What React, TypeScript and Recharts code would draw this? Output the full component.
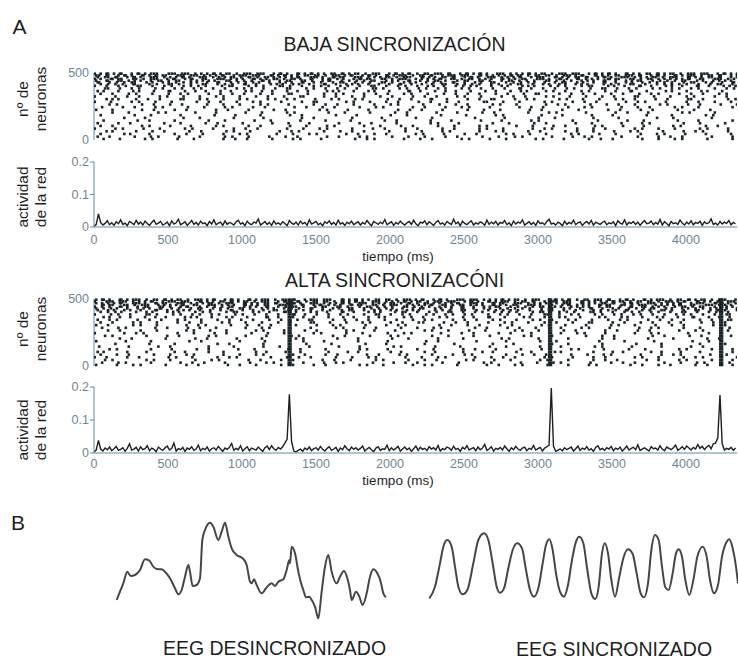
import { ScatterChart, Scatter, LineChart, Line, XAxis, YAxis } from 'recharts';

// time axis of the simulations (ms)
const timeTicks = [0, 500, 1000, 1500, 2000, 2500, 3000, 3500, 4000];
const timeMax = 4345;
const binMs = 30; // raster bin
const actStepMs = 15; // activity sampling step

// network activity, thousandths, one value every 15 ms
const lowActivity = [
  2, 8, 40, 14, 6, 11, 19, 7, 13, 5,
  16, 10, 22, 8, 12, 4, 17, 13, 7, 20,
  9, 15, 6, 18, 11, 5, 14, 21, 8, 12,
  17, 6, 10, 15, 4, 19, 9, 13, 24, 7,
  11, 16, 5, 12, 20, 8, 14, 6, 18, 10,
  13, 4, 17, 9, 22, 7, 12, 15, 5, 19,
  8, 14, 11, 6, 16, 21, 9, 13, 4, 18,
  10, 7, 15, 12, 25, 6, 11, 17, 8, 14,
  5, 19, 9, 13, 7, 16, 11, 4, 20, 12,
  8, 15, 6, 18, 10, 14, 5, 22, 9, 13,
  17, 7, 12, 4, 16, 11, 19, 8, 14, 6,
  21, 9, 13, 5, 15, 10, 18, 7, 12, 16,
  6, 14, 9, 20, 11, 4, 17, 13, 8, 15,
  10, 23, 7, 12, 16, 5, 14, 9, 18, 11,
  6, 13, 17, 8, 21, 10, 4, 15, 12, 19,
  7, 16, 11, 5, 14, 20, 9, 13, 6, 17,
  12, 8, 24, 10, 15, 4, 18, 11, 7, 14,
  19, 6, 13, 9, 16, 12, 5, 21, 8, 15,
  10, 17, 6, 14, 11, 20, 7, 13, 4, 18,
  9, 15, 12, 22, 6, 11, 16, 8, 14, 5,
  19, 10, 13, 7, 17, 24, 9, 12, 6, 15,
  11, 4, 18, 8, 14, 10, 21, 7, 13, 16,
  5, 12, 17, 9, 20, 6, 15, 11, 8, 14,
  18, 7, 13, 10, 16, 4, 19, 12, 9, 22,
  6, 14, 11, 17, 8, 15, 5, 13, 20, 10,
  12, 18, 7, 14, 9, 23, 6, 16, 11, 4,
  17, 10, 13, 8, 21, 12, 6, 15, 9, 19,
  7, 14, 11, 18, 5, 16, 10, 13, 25, 8,
  12, 6, 17, 9, 15, 11, 20, 7, 14, 10,
];

const highActivity = [
  3, 9, 38, 12, 6, 15, 10, 18, 7, 13,
  20, 8, 11, 16, 5, 14, 28, 9, 12, 17,
  6, 19, 10, 13, 22, 7, 15, 11, 4, 18,
  12, 8, 16, 21, 9, 14, 30, 6, 13, 10,
  17, 5, 15, 11, 19, 8, 12, 24, 7, 14,
  10, 18, 6, 13, 16, 9, 20, 12, 5, 15,
  11, 17, 29, 8, 14, 10, 22, 6, 13, 19,
  7, 15, 12, 9, 18, 11, 5, 16, 21, 10,
  22, 13, 8, 17, 12, 19, 30, 42, 178, 35,
  6, 3, 8, 12, 5, 15, 10, 18, 7, 13,
  16, 9, 20, 11, 6, 14, 19, 8, 12, 17,
  5, 15, 10, 22, 13, 7, 18, 11, 16, 9,
  14, 21, 6, 12, 17, 10, 4, 15, 19, 8,
  13, 11, 24, 7, 16, 9, 14, 20, 6, 12,
  18, 10, 15, 5, 13, 21, 8, 17, 11, 14,
  7, 19, 12, 16, 9, 23, 6, 13, 10, 18,
  15, 8, 20, 11, 14, 5, 17, 12, 22, 9,
  13, 16, 7, 18, 10, 15, 26, 8, 12, 19,
  6, 14, 11, 17, 9, 21, 13, 5, 16, 10,
  20, 12, 8, 15, 18, 7, 14, 11, 23, 9,
  13, 17, 6, 15, 19, 24, 197, 20, 5, 9,
  12, 7, 16, 10, 14, 18, 6, 13, 21, 8,
  15, 11, 19, 9, 13, 5, 17, 22, 10, 14,
  8, 16, 12, 20, 7, 15, 11, 18, 6, 13,
  21, 9, 14, 17, 10, 25, 8, 12, 16, 11,
  6, 19, 13, 15, 9, 22, 12, 7, 18, 14,
  10, 16, 24, 8, 13, 19, 11, 21, 15, 9,
  17, 12, 26, 14, 20, 10, 18, 23, 13, 28,
  30, 45, 176, 28, 9, 14, 11, 17, 8, 15,
];

// synchronous volleys in the high-synchrony network (ms, every neuron fires)
const syncTimes = [1316, 1328, 3076, 3088, 4232, 4244];

// raster rows: neuron index, then one char per 30 ms bin ('.' = silent, 1..3 = spike offset)
const lowRaster: [number, string][] = [
  [495, '1231231.2312321.3213213.1231232.1321321.2312.3123123.2131232.1321.2312313.2132131.2312312.3213.1231232.1321321.2312312.3123.2131232.1321321.2312313.21321'],
  [482, '2131.2312.3123121.3213213.1231.2321321.3123123.2132.1321231.2312.3123213.2131.2321321.3123.1231213.2132.1321231.3123.2132131.2312.3123213.2131.23213212'],
  [469, '3.2131.2312.3213.12312.3213.1232.1313.2123.1231.3212.3121.3213.1232.1321.3123.2131.2312.3213.1231.2321.3123.2131.2312.3213.1232.1321.3123.2131.23121.3'],
  [456, '12.3121.32.1321.231.231.21.3213.12.3123.213.212.31.2313.1.23121.32.1321.23.1231.213.213.12.3123.21.3212.312.313.12.3121.32.132.123.1231.21.3213.12.312'],
  [443, '2.31.213.12.3.213.21.3.123.1.32.13.2.312.3.21.32.1.231.3.2.13.21.3.12.31.2.132.1.3.21.32.1.3.213.2.1.32.13.2.3.12.31.2.3.121.3.2.13.21.3.1.23.12.3.213'],
  [430, '31.2.13.21.3.1.23.2.13.1.2.31.3.2.13.1.2.3.12.31.2.1.3.21.3.2.1.32.1.3.12.3.2.1.31.2.3.1.21.3.2.13.1.2.3.21.3.1.2.31.2.3.1.2.13.2.1.3.21.3.1.2.31.2.31'],
  [417, '.2.13.2.31..2.1.32.1.3..21.3.2.1.31.2..3.12.3.1.2..31.2.3.12.3..1.2.31.2.3..1.21.3.2.13..2.1.3.21.3..12.3.1.23.1..3.2.1.32..1.3.2.13.2..1.3.21.3..2.1'],
  [404, '1.3..2.1.32..1.3.2..13.2.1..3.21..3.2.1..32.1.3..2.13..2.1.3..21.3..2.1.3..12.3..2.13.1..2.3.1..23.1..3.2.1..3.21..3.1.2..31.2..3.1.2..31.2..3.12..3.2'],
  [385, '..21.3..2.1..3.2..13..2.1.3..2..13.2..1.3..21..3.2..1.3.2..1..32.1..3.2..13..2.1..3.2..1.3..2..31.2..1.3..2.1..3..21.3..2.1..3.2..13..2.1..3..2.1.3..2'],
  [365, '3.1..2..3.1..2..31..2.3..1..2.3...12.3..1..2.3..1...23.1..2..3.1..2...31.2..3..1.2..3...1.2..3..12...3.2..1..3.2...1.2..31..2...3.1..2..3.1..2...3.1..'],
  [345, '.2..1..3.2...1..3..2.1...3..2..1.3...2..1..32...1..3..2.1...3..2..1..3.2...1..3..2..1.3...2..1..3..21...3..2..1.3...2..1..3..2.1...3..2..1..3.2...1..3'],
  [325, '1...3..2..1...3.2...1..3...2.1..3...2..1..3...21...3..2...1.3...2..1...3..2..1...3.2...1...3..2..1...3.2...1..3...2..1...32...1..3...2.1...3..2...1...'],
  [305, '..3.12...2..1.3....21..3.2...1..3.2....13..2.1...3...2.1..3.2.....1.3..2...31..2....1.3..21...3..2.1....3.2...1..3...2.1.3....2..1...32..1....3.2..1...'],
  [285, '1..3....2.1..3...2.....1.3..2...1..3.2....1...3..21.....3.2...1..3..2....1.3...2..1....32...1..3.....2.1...3..2..1.....3..2.1...3....2..1..3...2.1....3.'],
  [265, '...2.1....3..2...1.3.....2...1..3....2.1...3.....2..1.3...2....1..3.2.....1..3...2..1....3.2...1.....3..2.1....3...2..1..3.....2.1...3..2....1..3.2....'],
  [245, '.3....2..1...3.2.....1..3....2.1...3..2......1.3...2..1....3...2.1.....3..2....1..3.2....1.....3..2..1....3...2.1.....3...2..1....3.2...1......3..2.1..'],
  [225, '2...1.....3..2....1.3......2..1...3.....2..1......3.2....1...3......2..1.3....2.....1..3...2......1.3....2...1.....3..2....1.3.....2...1..3......2..1...'],
  [205, '....1..3......2.1.....3....2......1..3.....2.1......3...2.....1....3..2......1...3.....2..1......3....2.1.....3......2..1...3.......2.1....3.....2...1..'],
  [185, '.2.......1..3......2.......1...3.....2......1.3.......2....1......3...2.......1....3......2.1.......3....2......1...3.......2.....1......3.2.......1.....'],
  [165, '......3....2........1..3.......2......1.......3..2........1.....3.......2...1........3......2.......1..3........2.....1.......3...2........1......3....'],
  [145, '..1......3..2.....1......3...2......1..3......2.....1....3.......2..1......3....2......1...3......2.1......3.....2......1..3.......2....1......3..2......'],
  [125, '3....2..1......3...2.....1.3.....2......1..3....2......1...3..2.....1......3.2....1......3...2.....1.3......2...1.....3....2.1......3...2.....1..3.....2.'],
  [105, '.2..1.....3.2....1...3.....2.1....3..2......1..3....2.1.....3...2....1.3.....2...1....3.2......1..3....2..1.....3.2....1...3......2.1....3..2.....1.3..'],
  [85, '1...3.2....1..3.....2.1...3....2..1.3......2...1..3.2.....1...3..2....1.3.....2..1....3.2...1.....3..2.1....3...2..1.....3.2...1..3.....2.1...3....2.1.'],
  [65, '..3.1....2...1.3.....2..1....3.2...1.....3..2.1....3...2..1.3.....2...1..3....2.1.....3...2.1....3..2.....1.3...2....1..3.2.....1...3..2.1....3.....2..'],
  [45, '.2....3.1...2.....1.3...2....1..3.2......1..3...2.1.....3..2...1.3......2.1...3....2..1.....3.2...1..3.....2.1...3...2.....1..3.2....1...3.....2.1..3..'],
  [25, '3..2.....1..3.2....1...3.....2.1..3....2...1.3......2..1...3.2.....1..3...2....1.3.....2...1..3.2......1...3..2.1.....3...2....1.3..2......1...3.2....1'],
  [8, '..1..3.....2.1....3...2......1.3..2.....1...3.2....1......3..2.1.....3...2..1.....3.2....1..3......2.1...3.....2..1.3......2...1..3.2.....1....3..2....'],
];

const highRaster: [number, string][] = [
  [495, '2312.3123213.2131232.1321231.2312.3123213.2131.2321321.3123123.2132.1321231.2312.3213213.1231232.1321.2312313.2132131.2312.3123213.2131232.1321.231231'],
  [482, '1.3213213.1231.2321321.3123.2131232.1321.2312313.2132.1312312.3213.1231232.1321321.2312.3123213.2131.2321321.3123.1231213.2132.1321231.3123.2132131.23'],
  [469, '23.1231.3212.3121.3213.1232.1321.3123.2131.2312.3213.12312.3213.1232.1313.2123.1231.3212.3121.3213.1232.1321.3123.2131.2312.3213.1231.2321.3123.2131.2'],
  [456, '.3121.32.1321.23.1231.21.3213.12.3123.21.3212.31.2313.12.3121.32.1321.23.1231.213.213.12.3123.21.3212.31.2313.12.3121.32.1321.23.1231.21.3213.12.3123'],
  [443, '13.2.312.3.21.32.1.231.3.2.13.21.3.12.31.2.132.1.3.21.32.1.3.213.2.1.32.13.2.3.12.31.2.3.121.3.2.13.21.3.1.23.12.3.21.2.31.213.12.3.213.21.3.123.1.32'],
  [430, '2.13.1.2.3.12.31.2.1.3.21.3.2.1.32.1.3.12.3.2.1.31.2.3.1.21.3.2.13.1.2.3.21.3.1.2.31.2.3.1.2.13.2.1.3.21.3.1.2.31.2.3.1.2.13.21.3.1.23.2.13.1.2.31.3.2'],
  [417, '3..12.3.1.2..31.2.3.12.3..1.2.31.2.3..1.21.3.2.13..2.1.3.21.3..12.3.1.23.1..3.2.1.32..1.3.2.13.2..1.3.21.3..2.1.2.13.2.31..2.1.32.1.3..21.3.2.1.31.2..'],
  [404, '.2.13.1..2.3.1..23.1..3.2.1..3.21..3.1.2..31.2..3.1.2..31.2..3.12..3.21.3..2.1.32..1.3.2..13.2.1..3.21..3.2.1..32.1.3..2.13..2.1.3..21.3..2.1.3..12.3'],
  [385, '1..3.2..1..32.1..3.2..13..2.1..3.2..1.3..2..31.2..1.3..2.1..3..21.3..2.1..3.2..13..2.1..3..2.1.3..2..21.3..2.1..3.2..13..2.1.3..2..13.2..1.3..21..3.2..'],
  [365, '..12.3..1..2.3..1...23.1..2..3.1..2...31.2..3..1.2..3...1.2..3..12...3.2..1..3.2...1.2..31..2...3.1..2..3.1..2...3.1..3.1..2..3.1..2..31..2.3..1..2.3.'],
  [345, '3..2.1...3..2..1..3.2...1..3..2..1.3...2..1..3..21...3..2..1.3...2..1..3..2.1...3..2..1..3.2...1..3.2..1..3.2...1..3..2.1...3..2..1.3...2..1..32...1..'],
  [325, '.2..1...3.2...1...3..2..1...3.2...1..3...2..1...32...1..3...2.1...3..2...11...3..2..1...3...2.1..3...2..1..3...21...3..2...1.3...2..1...3..2..1...3.'],
  [305, '2..1....3.2...1.....3..2.1....3...2..1.3.....2....1..3.2.....1...3..2.1......3..2...1.3....2..1.....3.2...1...3.....2.1..3....2...1.3......2..1...3.2..'],
  [285, '.3...2.1.....3..2....1.3...2......1..3.2....1...3.....2.1...3..2.....1..3...2.1......3..2....1.3...2.....1...3.2....1.....3..2.1....3...2......1.3..2..'],
  [265, '...1.3....2...1.....3.2...1..3......2.1...3....2..1.....3.2....1...3......2.1..3....2...1.....3.2...1....3..2......1.3....2..1.....3...2.1....3......2.'],
  [245, '1.....3..2.1......3...2....1.3.....2...1..3......2.1....3...2.....1..3.2......1...3..2.....1.3....2......1..3.2....1.....3...2.1.....3....2..1......3..'],
  [225, '..2.1......3....2..1.....3.2......1...3.....2.1......3..2.....1...3.2.......1..3.....2...1......3.2....1......3...2..1.......3..2.....1.3......2....1..'],
  [205, '.....3..2.......1.....3..2......1....3.......2.1......3....2.......1..3......2.....1.......3.2......1.....3.......2..1......3.....2.......1.3......2...'],
  [185, '2......1....3........2..1.......3.....2........1...3.......2......1.......3..2........1.....3.......2...1........3.....2......1.......3...2.......1.....'],
  [165, '....3.......2.....1........3..2.......1........3.....2.......1...3........2......1.......3....2........1..3.......2.......1....3........2.....1.......'],
  [145, '.1.....3......2..1.......3.....2......1..3......2......1...3.......2.1......3.....2......1..3.......2....1......3.2......1.....3......2..1.......3.....'],
  [125, '...2.1......3....2.....1.3......2...1......3..2.....1......3.2....1.....3...2......1.3....2.....1...3......2.1....3.....2...1......3.2.....1...3......'],
  [105, '3.1....2...3......1.2....3...1......2.3....1..2.....3....1.2......3..1....2.3......1...2.3.....1..2....3.1......2...3..1.....2.3....1...2......3.1....2'],
  [85, '.2...1.3.....2...1..3.2......1..3...2.1.....3..2....1.3......2..1...3.2.....1...3..2.1......3...2..1.3.....2...1..3.2......1...3..2.1.....3...2..1.3...'],
  [65, '1.3....2..1.....3.2...1....3..2.1......3...2..1.3.....2...1..3.2......1..3...2.1.....3...2..1.3......2.1...3....2..1.....3.2...1....3..2.1......3...2..'],
  [45, '..2.1......3.2...1....3...2.1.....3..2....1.3......2..1..3.....2.1....3...2..1.....3.2....1..3......2.1...3.....2..1.3......2..1...3.2.....1...3..2.1..'],
  [25, '.3...2.1....3......2..1.3....2.....1..3.2......1...3..2.1.....3....2..1.3.....2...1....3.2......1..3...2.1.....3....2..1.3......2...1..3.2.....1...3.2.'],
  [8, '2....1..3.2.....1...3..2......1.3...2.....1.3....2..1......3.2...1.....3..2.1....3......2..1..3.2.....1...3....2.1......3..2...1.3.....2..1....3.2.....'],
];

// EEG sketches (arbitrary time / amplitude units)
const desT = [80, 90, 100, 112, 122, 135, 150, 165, 178, 190, 200, 215, 225, 240, 255, 265, 275, 285, 295, 300, 308, 320, 330, 337, 345, 360, 370, 385, 395, 405, 415, 425, 440, 458, 470, 480, 485, 492, 500, 515, 530, 545, 555, 565, 580, 590, 598, 600, 605, 615, 625, 632, 640, 648, 658, 665, 675, 685, 695, 705, 715, 725, 740, 750, 762, 772, 780, 785, 798, 808, 818, 830, 840, 850, 862, 872, 880, 888];
const desV = [60, 85, 110, 145, 132, 135, 150, 182, 178, 160, 153, 152, 145, 125, 95, 77, 90, 130, 165, 145, 102, 105, 125, 240, 270, 292, 280, 240, 265, 292, 250, 215, 195, 185, 165, 115, 110, 122, 105, 80, 98, 110, 102, 115, 122, 150, 180, 170, 220, 200, 145, 115, 90, 68, 70, 60, 40, 5, 85, 160, 195, 145, 110, 130, 147, 125, 90, 60, 85, 70, 45, 80, 130, 152, 140, 115, 80, 68];

const synT = [58, 75, 90, 100, 112, 125, 135, 145, 158, 172, 190, 205, 222, 235, 248, 260, 270, 282, 295, 308, 322, 336, 348, 360, 372, 385, 398, 408, 418, 428, 438, 450, 462, 474, 486, 498, 508, 520, 532, 544, 556, 566, 576, 584, 594, 604, 615, 628, 640, 654, 668, 680, 692, 702, 714, 724, 735, 746, 756, 766, 776, 788, 798, 806, 816, 826, 838, 850, 862, 878, 890, 900, 912, 924, 936, 950, 958, 968, 978, 984];
const synV = [65, 100, 170, 220, 240, 220, 160, 100, 77, 90, 170, 240, 260, 240, 170, 100, 82, 95, 155, 210, 230, 215, 150, 90, 70, 95, 170, 225, 242, 210, 140, 85, 70, 105, 180, 235, 250, 230, 150, 80, 63, 100, 200, 230, 200, 120, 70, 130, 185, 212, 198, 140, 80, 68, 110, 210, 255, 240, 160, 98, 90, 140, 200, 212, 190, 120, 75, 120, 190, 220, 190, 120, 80, 105, 190, 235, 242, 215, 160, 110];

const AXIS = '#5f8aa2';
const TICK = '#6f8596';
const INK = '#1f1f1f';
const FONT = '"Liberation Sans", Arial, Helvetica, sans-serif';

function toSpikes(rows: [number, string][], volleys: number[]) {
  const pts: { t: number; n: number }[] = [];
  rows.forEach(([n, s]) => {
    for (let i = 0; i < s.length; i++) {
      if (s[i] !== '.') pts.push({ t: i * binMs + (Number(s[i]) - 1) * 10 + 5, n });
    }
    volleys.forEach((t) => pts.push({ t, n }));
  });
  return pts;
}

const Dot = (p: any) => (
  <rect x={p.cx - 1.3} y={p.cy - 1.3} width={2.6} height={2.6} fill="#1b2428" />
);

function Raster({ top, height, rows, volleys }: { top: number; height: number; rows: [number, string][]; volleys: number[] }) {
  const points = toSpikes(rows, volleys);
  return (
    <div style={{ position: 'absolute', left: 0, top: top - 8 }}>
      <ScatterChart width={760} height={height + 16} margin={{ top: 8, right: 23, bottom: 8, left: 0 }}>
        <XAxis xAxisId="b" type="number" dataKey="t" domain={[0, timeMax]} allowDataOverflow height={0} tick={false} tickLine={false} stroke={AXIS} />
        <XAxis xAxisId="top" orientation="top" type="number" domain={[0, timeMax]} allowDataOverflow height={0} tick={false} tickLine={false} stroke={AXIS} />
        <YAxis type="number" dataKey="n" domain={[0, 500]} ticks={[0, 500]} width={94} tickLine={false} tickSize={0} tickMargin={5} tick={{ fill: TICK, fontSize: 12.5 }} stroke={AXIS} />
        <Scatter xAxisId="b" data={points} shape={Dot} isAnimationActive={false} />
      </ScatterChart>
    </div>
  );
}

function Activity({ top, height, values, gap }: { top: number; height: number; values: number[]; gap: number }) {
  const data = values.map((v, i) => ({ t: i * actStepMs, a: v / 1000 }));
  return (
    <div style={{ position: 'absolute', left: 0, top: top - 8 }}>
      <LineChart width={760} height={height + 30} data={data} margin={{ top: 8, right: 23, bottom: 2, left: 0 }}>
        <XAxis dataKey="t" type="number" domain={[0, timeMax]} allowDataOverflow ticks={timeTicks} interval={0} height={20} tickLine={false} tickSize={0} tickMargin={gap} tick={{ fill: TICK, fontSize: 12.5 }} stroke={AXIS} />
        <XAxis xAxisId="top" orientation="top" type="number" domain={[0, timeMax]} allowDataOverflow ticks={timeTicks} interval={0} mirror height={0} tick={false} tickSize={3} stroke={AXIS} />
        <YAxis type="number" domain={[0, 0.2]} ticks={[0, 0.1, 0.2]} interval={0} width={94} tickSize={4} tickMargin={1} tick={{ fill: TICK, fontSize: 12.5 }} stroke={AXIS} />
        <YAxis yAxisId="r" orientation="right" type="number" domain={[0, 0.2]} ticks={[0.1]} mirror width={0} tick={false} tickSize={4} stroke={AXIS} />
        <Line type="linear" dataKey="a" stroke={INK} strokeWidth={1.4} dot={false} isAnimationActive={false} />
      </LineChart>
    </div>
  );
}

function Eeg({ left, width, tMax, ts, vs }: { left: number; width: number; tMax: number; ts: number[]; vs: number[] }) {
  const data = ts.map((t, i) => ({ t, v: vs[i] }));
  return (
    <div style={{ position: 'absolute', left, top: 510 }}>
      <LineChart width={width} height={120} data={data} margin={{ top: 10, right: 0, bottom: 10, left: 0 }}>
        <XAxis dataKey="t" type="number" domain={[0, tMax]} hide />
        <YAxis type="number" domain={[0, 300]} hide />
        <Line type="monotone" dataKey="v" stroke="#4a4545" strokeWidth={2} strokeLinejoin="round" dot={false} isAnimationActive={false} />
      </LineChart>
    </div>
  );
}

function Txt({ x, y, size, children }: { x: number; y: number; size: number; children: any }) {
  return (
    <div style={{ position: 'absolute', left: x, top: y, transform: 'translate(-50%, -50%)', fontSize: size, lineHeight: `${size}px`, whiteSpace: 'nowrap', color: INK }}>
      {children}
    </div>
  );
}

function SideLabel({ y, lines }: { y: number; lines: string[] }) {
  return (
    <div style={{ position: 'absolute', left: 32, top: y, transform: 'translate(-50%, -50%) rotate(-90deg)', fontSize: 15.5, lineHeight: '18px', textAlign: 'center', whiteSpace: 'nowrap', color: INK }}>
      {lines.map((l) => <div key={l}>{l}</div>)}
    </div>
  );
}

export default function App() {
  return (
    <div style={{ position: 'absolute', left: 0, top: 0, width: 738, height: 659, overflow: 'hidden', background: '#fff', fontFamily: FONT }}>
      <Txt x={19.5} y={25.5} size={21}>A</Txt>
      <Txt x={394.5} y={45} size={19.5}>BAJA SINCRONIZACIÓN</Txt>
      <SideLabel y={99} lines={['nº de', 'neuronas']} />
      <Raster top={73} height={67} rows={lowRaster} volleys={[]} />
      <SideLabel y={197} lines={['actividad', 'de la red']} />
      <Activity top={162} height={65} values={lowActivity} gap={8} />
      <Txt x={398} y={257} size={13.5}>tiempo (ms)</Txt>

      <Txt x={394.5} y={281} size={19.5}>ALTA SINCRONIZACÓNI</Txt>
      <SideLabel y={329} lines={['nº de', 'neuronas']} />
      <Raster top={299} height={67} rows={highRaster} volleys={syncTimes} />
      <SideLabel y={430} lines={['actividad', 'de la red']} />
      <Activity top={387} height={66} values={highActivity} gap={6} />
      <Txt x={398} y={481} size={13.5}>tiempo (ms)</Txt>

      <Txt x={18} y={522} size={21}>B</Txt>
      <Eeg left={90} width={320} tMax={960} ts={desT} vs={desV} />
      <Eeg left={410} width={328} tMax={984} ts={synT} vs={synV} />
      <Txt x={274.5} y={649} size={19.5}>EEG DESINCRONIZADO</Txt>
      <Txt x={614} y={650} size={19.5}>EEG SINCRONIZADO</Txt>
    </div>
  );
}
